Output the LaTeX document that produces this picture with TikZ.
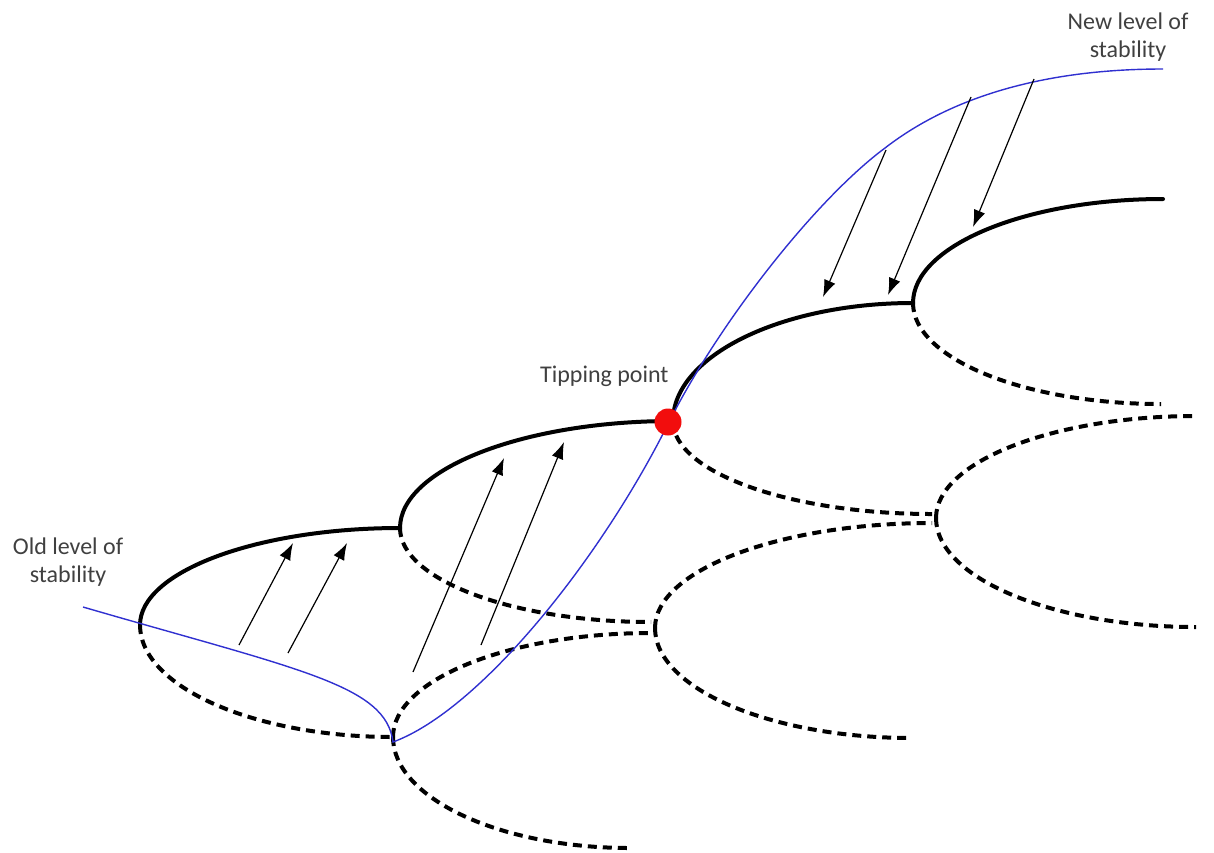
\documentclass[tikz,border=0pt]{standalone}
\usepackage{fontspec}
\setmainfont{Carlito}
\usetikzlibrary{arrows.meta, calc}
\definecolor{azulcamino}{HTML}{3030D0}
\definecolor{rojopunto}{HTML}{F20D0D}
\definecolor{gristexto}{HTML}{404040}
\colorlet{colLinea}{black}
\colorlet{colCamino}{azulcamino}
\colorlet{colPunto}{rojopunto}
\colorlet{colTexto}{gristexto}
\tikzset{
  lobulo/.style={to path={.. controls ($(\tikztostart)!0.55!(\tikztostart|-\tikztotarget)$)
      and ($(\tikztotarget)!0.55!(\tikztostart|-\tikztotarget)$) .. (\tikztotarget)}},
  ramaFirme/.style={lobulo, draw=colLinea, line width=2pt, line cap=round},
  ramaPunteada/.style={lobulo, draw=colLinea, line width=2pt, dash pattern=on 4.5pt off 3pt},
  flecha/.style={-{Latex[length=8.5pt, width=6pt]}, line width=0.6pt, colLinea},
  camino/.style={draw=colCamino, line width=0.7pt},
  puntoCritico/.style={circle, fill=colPunto, minimum size=13.5pt, inner sep=0pt},
  etiqueta/.style={font=\fontsize{12pt}{14pt}\selectfont, text=colTexto, align=center, inner sep=0pt},
}

\begin{document}
\begin{tikzpicture}[x=0.5pt, y=-0.5pt]
    \useasboundingbox (0,0) rectangle (1214,852);

    % puntos de bifurcacion
    \coordinate (A) at (140,625);
    \coordinate (B) at (400,528);
    \coordinate (C) at (393,737);
    \coordinate (D) at (673,421);
    \coordinate (E) at (655,628);
    \coordinate (F) at (913,303);
    \coordinate (G) at (936,518);
    \coordinate (E1) at (651,622);
    \coordinate (E2) at (651,633);
    \coordinate (G1) at (932,514);
    \coordinate (G2) at (932,523);
    \coordinate (Fa) at (1163,199);
    \coordinate (Fb) at (1161,404);
    \coordinate (Ga) at (1196,416);
    \coordinate (Gb) at (1196,627);
    \coordinate (Eb) at (912,738);
    \coordinate (Cb) at (630,848);

    % ramas estables
    \draw[ramaFirme] (A) to (B);
    \draw[ramaFirme] (B) to (D);
    \draw[ramaFirme] (D) to (F);
    \draw[ramaFirme] (F) to (Fa);

    % ramas posibles
    \draw[ramaPunteada] (A) to (C);
    \draw[ramaPunteada] (B) to (E1);
    \draw[ramaPunteada] (C) to (E2);
    \draw[ramaPunteada] (C) to (Cb);
    \draw[ramaPunteada] (D) to (G1);
    \draw[ramaPunteada] (E) to (G2);
    \draw[ramaPunteada] (E) to (Eb);
    \draw[ramaPunteada] (F) to (Fb);
    \draw[ramaPunteada] (G) to (Ga);
    \draw[ramaPunteada] (G) to (Gb);

    % trayectoria del sistema
    \coordinate (inicio) at (83,607);
    \coordinate (cuspide) at (393,742);
    \coordinate (cruce) at (668,424);
    \coordinate (codo) at (885,148);
    \coordinate (final) at (1163,69);
    \draw[camino] (inicio) .. controls (300,670) and (386,685) .. (cuspide)
      .. controls (480,710) and (600,560) .. (cruce)
      .. controls (718,324) and (815,200) .. (codo)
      .. controls (960,90) and (1060,69) .. (final);

    % presiones
    \foreach \i/\xa/\ya/\xb/\yb in {
        1/239/645/293/543,
        2/288/653/347/543,
        3/413/672/504/458,
        4/481/645/564/442,
        5/886/150/823/297,
        6/971/97/888/295,
        7/1034/79/973/227
      }{
        \coordinate (ini\i) at (\xa,\ya);
        \coordinate (fin\i) at (\xb,\yb);
        \draw[flecha] (ini\i) -- (fin\i);
      }

    \node[puntoCritico] (tp) at (668,422) {};

    \node[etiqueta, anchor=base east] (lblTp) at (669,382) {Tipping point};
    \node[etiqueta] (lblViejo) at (68,562) {Old level of\\stability};
    \node[etiqueta] (lblNuevo) at (1128,37) {New level of\\stability};
  \end{tikzpicture}
\end{document}
